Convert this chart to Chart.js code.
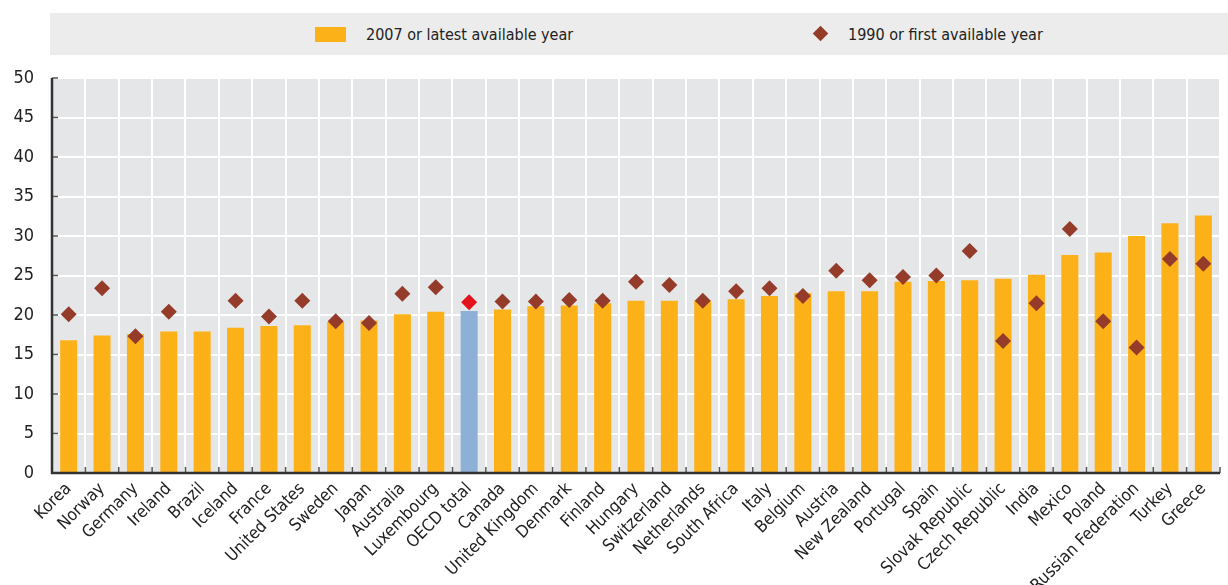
<!DOCTYPE html>
<html>
<head>
<meta charset="utf-8">
<script src="https://cdn.jsdelivr.net/npm/chart.js@4"></script>
<style>
  body { margin: 0; background: #fff; font-family: "Liberation Sans Narrow", "DejaVu Sans Condensed", sans-serif; font-stretch: condensed; }
  #wrap { position: relative; width: 1228px; height: 585px; }
  #legend { position: absolute; left: 50px; top: 13px; width: 1178px; height: 42px; background: #ECECEC; color: #222; font-size: 16px; }
  .item { position: absolute; top: 0; height: 42px; line-height: 44px; }
  .sq { position: absolute; left: 265px; top: 14px; width: 31px; height: 15px; background: #FDB119; }
  .dia { position: absolute; left: 765px; top: 15px; width: 11px; height: 11px; background: #943B2A; transform: rotate(45deg); }
</style>
</head>
<body>
<div id="wrap">
  <canvas id="myChart" width="1228" height="585"></canvas>
  <div id="legend">
    <div class="sq"></div><div class="item" style="left:316px">2007 or latest available year</div>
    <div class="dia"></div><div class="item" style="left:798px">1990 or first available year</div>
  </div>
</div>
<script>
'use strict';

// countries, sorted by latest value
var countries = ['Korea', 'Norway', 'Germany', 'Ireland', 'Brazil', 'Iceland', 'France', 'United States', 'Sweden', 'Japan',
    'Australia', 'Luxembourg', 'OECD total', 'Canada', 'United Kingdom', 'Denmark', 'Finland', 'Hungary', 'Switzerland', 'Netherlands',
    'South Africa', 'Italy', 'Belgium', 'Austria', 'New Zealand', 'Portugal', 'Spain', 'Slovak Republic', 'Czech Republic', 'India',
    'Mexico', 'Poland', 'Russian Federation', 'Turkey', 'Greece'];
// 2007 or latest available year
var latest = [16.8, 17.4, 17.6, 17.9, 17.9, 18.4, 18.6, 18.7, 19.1, 19.3,
    20.1, 20.4, 20.5, 20.7, 21.1, 21.2, 21.5, 21.8, 21.8, 21.8,
    22.0, 22.4, 22.8, 23.0, 23.0, 24.2, 24.3, 24.4, 24.6, 25.1,
    27.6, 27.9, 30.0, 31.6, 32.6];
// 1990 or first available year (no value for Brazil)
var first = [20.1, 23.4, 17.3, 20.4, null, 21.8, 19.8, 21.8, 19.2, 19.0,
    22.7, 23.5, 21.6, 21.7, 21.7, 21.9, 21.8, 24.2, 23.8, 21.8,
    23.0, 23.4, 22.4, 25.6, 24.4, 24.8, 25.0, 28.1, 16.7, 21.5,
    30.9, 19.2, 15.9, 27.1, 26.5];
var yTicks = [0, 5, 10, 15, 20, 25, 30, 35, 40, 45, 50];

var fontFam = '"Liberation Sans Narrow", "DejaVu Sans Condensed", sans-serif';
var orange = '#FDB119';
var brown = '#943B2A';

var barColors = countries.map(function (c) { return c === 'OECD total' ? '#8DB1D6' : orange; });
var dotColors = countries.map(function (c) { return c === 'OECD total' ? '#E3121B' : brown; });

// grey plot background + small tick marks along the axes
var plotBg = {
    id: 'plotBg',
    beforeDraw: function (chart) {
        var a = chart.chartArea;
        var ctx = chart.ctx;
        ctx.save();
        ctx.fillStyle = '#E5E6E8';
        ctx.fillRect(a.left, a.top, a.right - a.left, a.bottom - a.top);
        ctx.restore();
    },
    afterDatasetsDraw: function (chart) {
        var a = chart.chartArea;
        var ctx = chart.ctx;
        var x = chart.scales.x;
        var y = chart.scales.y;
        ctx.save();
        ctx.strokeStyle = '#555';
        ctx.lineWidth = 1.5;
        for (var i = 0; i <= countries.length; i++) {
            var px = x.getPixelForValue(i) - (x.getPixelForValue(1) - x.getPixelForValue(0)) / 2;
            ctx.beginPath();
            ctx.moveTo(px, a.bottom);
            ctx.lineTo(px, a.bottom - 6);
            ctx.stroke();
        }
        yTicks.forEach(function (t) {
            var py = y.getPixelForValue(t);
            ctx.beginPath();
            ctx.moveTo(a.left, py);
            ctx.lineTo(a.left + 6, py);
            ctx.stroke();
        });
        ctx.strokeStyle = '#333';
        ctx.lineWidth = 2.5;
        ctx.beginPath();
        ctx.moveTo(a.left, a.top);
        ctx.lineTo(a.left, a.bottom);
        ctx.lineTo(a.right, a.bottom);
        ctx.stroke();
        ctx.restore();
    }
};

var ctx = document.getElementById('myChart').getContext('2d');
var chart = new Chart(ctx, {
    type: 'bar',
    data: {
        labels: countries,
        datasets: [{
            type: 'line',
            label: '1990 or first available year',
            data: first,
            showLine: false,
            pointStyle: 'rectRot',
            pointRadius: 8,
            pointHoverRadius: 8,
            pointBackgroundColor: dotColors,
            pointBorderColor: dotColors,
            borderWidth: 0,
            order: 0
        },
        {
            label: '2007 or latest available year',
            data: latest,
            backgroundColor: barColors,
            barPercentage: 0.51,
            categoryPercentage: 1,
            order: 1
        }]
    },
    options: {
        responsive: false,
        animation: false,
        layout: { padding: { top: 78, left: 8, right: 0, bottom: 0 } },
        plugins: {
            legend: { display: false },
            tooltip: { enabled: false }
        },
        scales: {
            x: {
                grid: { color: '#fff', lineWidth: 2, drawTicks: false, offset: true },
                border: { display: false },
                ticks: {
                    color: '#222',
                    font: { family: fontFam, size: 17, style: 'condensed' },
                    maxRotation: 45,
                    minRotation: 45,
                    autoSkip: false,
                    padding: 6
                },
                afterFit: function (s) { s.height = 112; }
            },
            y: {
                min: 0,
                max: 50,
                afterBuildTicks: function (s) { s.ticks = yTicks.map(function (v) { return { value: v }; }); },
                grid: { color: '#fff', lineWidth: 2, drawTicks: false },
                border: { display: false },
                ticks: {
                    color: '#222',
                    font: { family: fontFam, size: 18, style: 'condensed' },
                    padding: 18
                },
                afterFit: function (s) { s.width = 44; }
            }
        }
    },
    plugins: [plotBg]
});
</script>
</body>
</html>
